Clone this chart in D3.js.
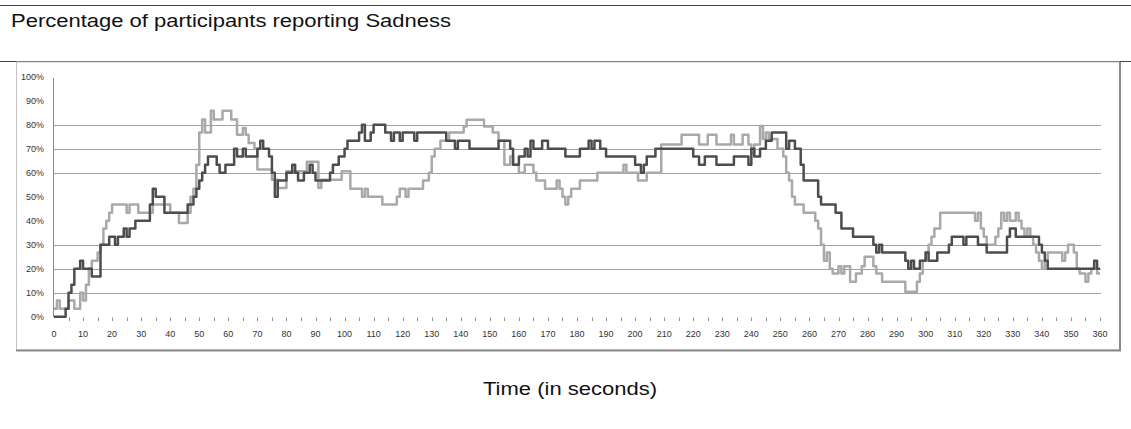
<!DOCTYPE html>
<html>
<head>
<meta charset="utf-8">
<script src="https://cdn.jsdelivr.net/npm/d3@7"></script>
<style>
  body { margin: 0; background: #fff; }
  svg { display: block; }
</style>
</head>
<body>
<svg id="chart"></svg>
<script>
// seconds -> percent, value holds until next change point
const darkSteps = [[0,0],[4,3.3],[5,10],[6,13.3],[7,20],[9,23.3],[10,20],[13,16.7],[16,30],[19,33.3],[21,30],[22,33.3],[24,36.7],[25,33.3],[26,36.7],[28,40],[33,46.7],[34,53.3],[35,50],[38,43.3],[46,46.7],[48,50],[49,53.3],[50,56.7],[51,60],[52,63.3],[53,66.7],[56,63.3],[57,60],[59,63.3],[62,70],[63,66.7],[65,70],[66,66.7],[70,70],[71,73.3],[72,70],[74,66.7],[75,60],[76,50],[77,56.7],[80,60],[82,63.3],[83,60],[84,56.7],[86,60],[88,63.3],[89,60],[90,56.7],[95,60],[96,63.3],[98,66.7],[100,70],[101,73.3],[105,76.7],[106,80],[107,73.3],[109,76.7],[110,80],[114,76.7],[116,73.3],[117,76.7],[119,73.3],[120,76.7],[124,73.3],[125,76.7],[135,73.3],[138,70],[139,73.3],[143,70],[153,73.3],[157,70],[158,63.3],[160,66.7],[162,70],[163,66.7],[164,73.3],[165,70],[168,73.3],[170,70],[176,66.7],[181,70],[184,73.3],[185,70],[186,73.3],[188,70],[190,66.7],[200,63.3],[202,60],[203,63.3],[204,66.7],[207,70],[220,66.7],[222,63.3],[224,66.7],[228,63.3],[234,66.7],[239,63.3],[240,70],[241,66.7],[243,70],[245,73.3],[247,76.7],[252,70],[253,73.3],[255,70],[257,63.3],[258,56.7],[263,50],[264,46.7],[269,43.3],[271,36.7],[275,33.3],[282,30],[283,26.7],[284,30],[285,26.7],[293,23.3],[294,20],[295,23.3],[296,20],[298,23.3],[300,26.7],[301,23.3],[304,26.7],[308,30],[309,33.3],[313,30],[314,33.3],[318,30],[321,26.7],[328,33.3],[329,36.7],[331,33.3],[339,30],[340,26.7],[341,23.3],[342,20],[358,23.3],[359,20],[360,20]];

const lightSteps = [[0,3.3],[1,6.7],[2,3.3],[5,6.7],[7,3.3],[9,10],[10,6.7],[11,13.3],[12,20],[13,23.3],[15,26.7],[16,30],[17,36.7],[18,40],[19,43.3],[20,46.7],[25,43.3],[26,46.7],[29,43.3],[34,46.7],[40,43.3],[43,39],[46,43.3],[47,50],[48,53.3],[49,63.3],[50,76.7],[51,82.2],[52,76.7],[54,85.8],[55,82.2],[58,85.8],[61,82.2],[63,75.8],[65,78.6],[66,75.8],[67,72.4],[69,70],[70,61.3],[75,57.1],[77,53.6],[80,60.6],[87,64.6],[91,53.6],[92,57.1],[99,60.6],[102,53.3],[106,50],[107,53.3],[108,50],[113,46.7],[118,50],[119,53.3],[121,50],[122,53.3],[127,56.7],[129,60],[130,66.7],[131,70],[133,73.3],[136,76.7],[141,79.3],[142,82.1],[148,79.3],[151,76.7],[153,73.3],[155,63.3],[157,66.7],[158,63.3],[160,60],[162,63.3],[165,60],[166,56.7],[169,53.3],[173,56.7],[174,53.3],[175,50],[176,46.7],[177,50],[178,53.3],[181,56.7],[187,60],[196,63.3],[197,60],[201,56.7],[204,60],[209,71.7],[216,75.8],[222,71.7],[225,75.8],[228,71.7],[233,75.8],[234,71.7],[237,75.8],[239,71.7],[240,68],[241,71.7],[243,79.5],[244,74],[245,76.7],[246,74],[249,70],[251,66.7],[252,60],[253,56.7],[254,50],[255,46.7],[258,43.3],[262,40],[263,36.7],[264,30],[265,23.3],[266,26.7],[267,20],[268,18],[270,21],[271,18],[272,21],[274,14.6],[276,18],[278,21],[279,25],[282,21],[283,18],[285,14.6],[293,10.4],[297,14.6],[298,18],[299,23.3],[300,26.7],[301,30],[302,33.3],[303,36.7],[305,43.3],[317,40],[318,43.3],[319,36.7],[320,33.3],[321,30],[324,33.3],[325,36.7],[326,43.3],[327,40],[328,43.3],[329,40],[331,43.3],[332,40],[333,36.7],[334,33.3],[335,36.7],[336,33.3],[337,30],[338,26.7],[339,23.3],[340,20],[341,23.3],[342,26.7],[347,23.3],[348,26.7],[349,30],[351,26.7],[352,20],[353,18],[355,14.6],[356,18],[357,20],[359,18],[360,18]];

const xLabels = d3.range(0, 361, 10);
const xMinorTicks = d3.range(0, 361, 5);
const yLabels = d3.range(0, 101, 10);
const gridLevels = [10, 20, 30, 60, 70, 80];

const chartTitle = "Percentage of participants reporting Sadness";
const xTitle = "Time (in seconds)";

const width = 1131, height = 429;

const svg = d3.select("#chart")
  .attr("width", width)
  .attr("height", height);

svg.append("rect").attr("width", width).attr("height", height).attr("fill", "#fff");

// header rules
svg.append("line").attr("x1", 0).attr("x2", width).attr("y1", 5.5).attr("y2", 5.5)
  .attr("stroke", "#444").attr("stroke-width", 1);
svg.append("line").attr("x1", 0).attr("x2", width).attr("y1", 61.5).attr("y2", 61.5)
  .attr("stroke", "#444").attr("stroke-width", 1.2);

svg.append("text")
  .attr("x", 11).attr("y", 27)
  .attr("textLength", 440).attr("lengthAdjust", "spacingAndGlyphs")
  .style("font-family", "'Liberation Sans', Arial, sans-serif")
  .style("font-size", "17.5px")
  .attr("fill", "#111")
  .text(chartTitle);

// plot frame
svg.append("rect")
  .attr("x", 16.5).attr("y", 62).attr("width", 1103).attr("height", 288)
  .attr("fill", "none").attr("stroke", "#c4c4c4");
svg.append("path")
  .attr("d", "M1120,62V350.5H16")
  .attr("fill", "none").attr("stroke", "#8a8a8a").attr("stroke-width", 2);

// scales
const x = d3.scaleLinear().domain([0, 360]).range([54, 1100]);
const y = d3.scaleLinear().domain([0, 100]).range([316.7, 76.7]);

// gridlines
svg.append("g").selectAll("line")
  .data(gridLevels).join("line")
  .attr("x1", 54).attr("x2", 1101)
  .attr("y1", d => Math.round(y(d)) + 0.5).attr("y2", d => Math.round(y(d)) + 0.5)
  .attr("stroke", "#a0a0a0").attr("stroke-width", 1);

// y axis
svg.append("line").attr("x1", 53.5).attr("x2", 53.5).attr("y1", 78).attr("y2", 317)
  .attr("stroke", "#8c8c8c");

svg.append("g").selectAll("text")
  .data(yLabels).join("text")
  .attr("x", 44).attr("y", d => y(d)).attr("dy", "0.35em")
  .attr("text-anchor", "end")
  .style("font-family", "'Liberation Sans', Arial, sans-serif")
  .style("font-size", "9px")
  .attr("fill", "#333")
  .text(d => d + "%");

// x axis ticks and labels
svg.append("g").selectAll("line")
  .data(xMinorTicks.filter(d => d > 0)).join("line")
  .attr("x1", d => Math.round(x(d)) + 0.5).attr("x2", d => Math.round(x(d)) + 0.5)
  .attr("y1", 317.5).attr("y2", 321)
  .attr("stroke", "#909090");

svg.append("g").selectAll("text")
  .data(xLabels).join("text")
  .attr("x", d => x(d)).attr("y", 337)
  .attr("text-anchor", "middle")
  .style("font-family", "'Liberation Sans', Arial, sans-serif")
  .style("font-size", "9px")
  .attr("fill", "#333")
  .text(d => d);

svg.append("text")
  .attr("x", 570).attr("y", 395)
  .attr("text-anchor", "middle")
  .attr("textLength", 174).attr("lengthAdjust", "spacingAndGlyphs")
  .style("font-family", "'Liberation Sans', Arial, sans-serif")
  .style("font-size", "17.5px")
  .attr("fill", "#111")
  .text(xTitle);

// series
const line = d3.line()
  .x(d => x(d[0]))
  .y(d => y(d[1]))
  .curve(d3.curveStepAfter);

svg.append("path")
  .datum(lightSteps)
  .attr("d", line)
  .attr("fill", "none")
  .attr("stroke", "#a9a9a9")
  .attr("stroke-width", 2.5)
  .attr("stroke-linejoin", "round");

svg.append("path")
  .datum(darkSteps)
  .attr("d", line)
  .attr("fill", "none")
  .attr("stroke", "#4d4d4d")
  .attr("stroke-width", 2.5)
  .attr("stroke-linejoin", "round");
</script>
</body>
</html>
